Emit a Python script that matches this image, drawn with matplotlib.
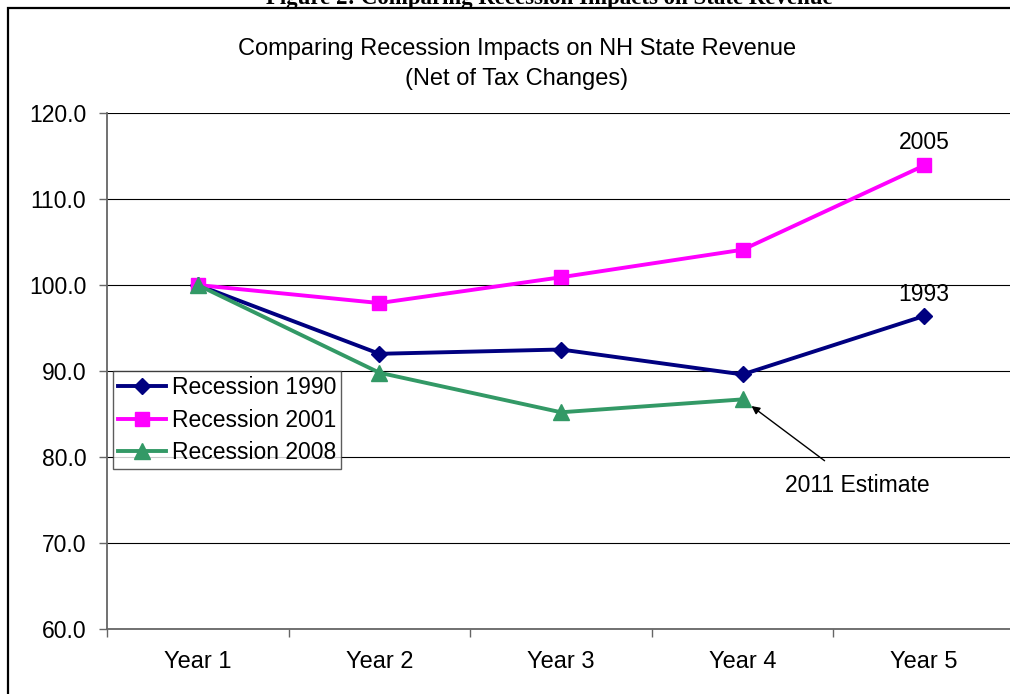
import matplotlib
matplotlib.use("Agg")
import matplotlib.pyplot as plt
from matplotlib.patches import Rectangle

plt.rcParams['font.family'] = ['Liberation Sans', 'DejaVu Sans']

years = ["Year 1", "Year 2", "Year 3", "Year 4", "Year 5"]
rec_1990 = [100.0, 92.0, 92.5, 89.6, 96.4]
rec_2001 = [100.0, 97.9, 100.9, 104.1, 113.9]
rec_2008 = [100.0, 89.8, 85.2, 86.7]
y_ticks = [60, 70, 80, 90, 100, 110, 120]

W, H = 1010, 694
FS = 16.5
fig = plt.figure(figsize=(W / 100, H / 100), dpi=100)

# caption above the chart frame (partly off the top edge)
fig.text(549 / W, 1 - 4 / H, "Figure 2: Comparing Recession Impacts on State Revenue",
         ha="center", va="baseline", fontsize=16.5, fontweight="bold",
         family=["Liberation Serif", "DejaVu Serif"])

# chart frame
fig.patches.append(Rectangle((8 / W, -0.1), 1.2, 1 - 8 / H + 0.1,
                             transform=fig.transFigure, fill=False,
                             edgecolor="black", linewidth=1.6, zorder=0))

fig.text(517 / W, 1 - 55 / H, "Comparing Recession Impacts on NH State Revenue",
         ha="center", va="baseline", fontsize=17)
fig.text(517 / W, 1 - 85 / H, "(Net of Tax Changes)",
         ha="center", va="baseline", fontsize=17)

ax = fig.add_axes([107 / W, 1 - 629 / H, 908 / W, 516 / H])
x = list(range(len(years)))

ax.plot(x, rec_1990, color="#000080", lw=2.8, marker="D", ms=8.5,
        label="Recession 1990", zorder=3)
ax.plot(x, rec_2001, color="#FF00FF", lw=2.8, marker="s", ms=10.5,
        label="Recession 2001", zorder=3)
ax.plot(x[:len(rec_2008)], rec_2008, color="#339966", lw=2.8, marker="^", ms=11,
        label="Recession 2008", zorder=3)

ax.set_xlim(-0.5, len(years) - 0.5)
ax.set_ylim(60, 120)
ax.set_yticks(y_ticks)
ax.set_yticklabels([f"{v:.1f}" for v in y_ticks], fontsize=FS)
ax.yaxis.grid(True, color="black", lw=0.8)
ax.set_axisbelow(True)

ax.set_xticks([i - 0.5 for i in range(len(years) + 1)])
ax.set_xticklabels([])
ax.set_xticks(x, minor=True)
ax.set_xticklabels(years, minor=True, fontsize=17)
ax.tick_params(axis="x", which="major", direction="out", length=6, color="#666666", width=1)
ax.tick_params(axis="x", which="minor", length=0, pad=16)
ax.tick_params(axis="y", direction="out", length=6, color="#666666", width=1, pad=9)

for side in ("top", "right"):
    ax.spines[side].set_visible(False)
for side in ("left", "bottom"):
    ax.spines[side].set_color("#666666")
    ax.spines[side].set_linewidth(1.3)

ax.annotate("2005", (4, rec_2001[4]), xytext=(0, 8), textcoords="offset points",
            ha="center", va="bottom", fontsize=FS)
ax.annotate("1993", (4, rec_1990[4]), xytext=(0, 7), textcoords="offset points",
            ha="center", va="bottom", fontsize=FS)
ax.annotate("2011 Estimate", xy=(3, rec_2008[3]), xytext=(857 / W, 1 - 485 / H),
            textcoords="figure fraction", ha="center", va="center", fontsize=FS,
            arrowprops=dict(arrowstyle="-|>", color="black", lw=1,
                            shrinkA=12, shrinkB=8, mutation_scale=12))

leg = ax.legend(loc="upper left", bbox_to_anchor=(0.0066, 0.5), fontsize=16.5,
                frameon=True, fancybox=False, edgecolor="#333333",
                handlelength=2.1, handletextpad=0.25, labelspacing=0.42,
                borderpad=0.22, borderaxespad=0)
leg.get_frame().set_linewidth(1.0)

fig.savefig("out.png", dpi=100)
